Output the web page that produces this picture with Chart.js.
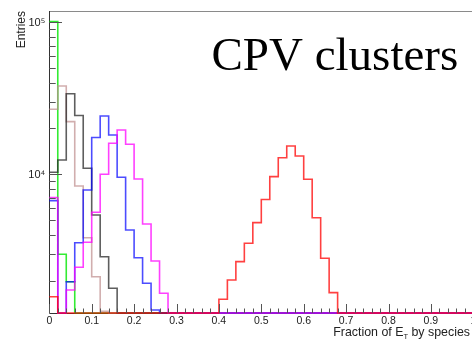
<!DOCTYPE html>
<html><head><meta charset="utf-8">
<script src="https://cdn.jsdelivr.net/npm/chart.js@4/dist/chart.umd.min.js"></script>
<style>
html,body{margin:0;padding:0;overflow:hidden;background:#fff;width:472px;height:347px;}
#wrap{position:absolute;left:0;top:0;width:490px;height:347px;}
</style></head><body>
<div id="wrap"><canvas id="c"></canvas></div>
<script>
// Bin lower edges (bin width 0.02)
const binLow = [
  0.00,0.02,0.04,0.06,0.08,0.10,0.12,0.14,0.16,0.18,
  0.20,0.22,0.24,0.26,0.28,0.30,0.32,0.34,0.36,0.38,
  0.40,0.42,0.44,0.46,0.48,0.50,0.52,0.54,0.56,0.58,
  0.60,0.62,0.64,0.66,0.68,0.70,0.72,0.74,0.76,0.78,
  0.80,0.82,0.84,0.86,0.88,0.90,0.92,0.94,0.96,0.98];

const green = [
  100500,2984,1970,0,0,0,0,0,0,0,
  0,0,0,0,0,0,0,0,0,0,
  0,0,0,0,0,0,0,0,0,0,
  0,0,0,0,0,0,0,0,0,0,
  0,0,0,0,0,0,0,0,0,0];
const rosy = [
  26720,38000,22150,8380,3834,2126,1260,0,0,0,
  0,0,0,0,0,0,0,0,0,0,
  0,0,0,0,0,0,0,0,0,0,
  0,0,0,0,0,0,0,0,0,0,
  0,0,0,0,0,0,0,0,0,0];
const black = [
  10300,12410,33780,24320,10950,5405,2877,1784,0,0,
  0,0,0,0,0,0,0,0,0,0,
  0,0,0,0,0,0,0,0,0,0,
  0,0,0,0,0,0,0,0,0,0,
  0,0,0,0,0,0,0,0,0,0];
const blue = [
  6710,0,1971,3555,7887,17440,24140,18110,9557,4309,
  2834,1924,1285,0,0,0,0,0,0,0,
  0,0,0,0,0,0,0,0,0,0,
  0,0,0,0,0,0,0,0,0,0,
  0,0,0,0,0,0,0,0,0,0];
const magenta = [
  7020,0,1739,2452,3576,5629,10000,15970,19540,15740,
  9314,4718,2696,1654,0,0,0,0,0,0,
  0,0,0,0,0,0,0,0,0,0,
  0,0,0,0,0,0,0,0,0,0,
  0,0,0,0,0,0,0,0,0,0];
const red = [
  1570,0,0,0,0,0,0,0,0,0,
  0,0,0,0,0,0,0,0,0,0,
  1511,2023,2668,3523,4811,6831,9644,12850,15340,13190,
  9272,5188,2809,1670,0,0,0,0,0,0,
  0,0,0,0,0,0,0,0,0,0];

const xTickValues = [0,0.1,0.2,0.3,0.4,0.5,0.6,0.7,0.8,0.9,1];
const xTickLabels = ['0','0.1','0.2','0.3','0.4','0.5','0.6','0.7','0.8','0.9','1'];
const xMinorTicks = [0.02,0.04,0.06,0.08,0.12,0.14,0.16,0.18,0.22,0.24,0.26,0.28,
  0.32,0.34,0.36,0.38,0.42,0.44,0.46,0.48,0.52,0.54,0.56,0.58,0.62,0.64,0.66,0.68,
  0.72,0.74,0.76,0.78,0.82,0.84,0.86,0.88,0.92,0.94,0.96,0.98];
const yTickValues = [10000,100000];
const yTickLabels = ['10\u2074','10\u2075'];
const yMinorTicks = [2000,3000,4000,5000,6000,7000,8000,9000,
  20000,30000,40000,50000,60000,70000,80000,90000];

const X_MIN = 0, X_MAX = 1;
const Y_MIN = 1228, Y_MAX = 118000;

function histPoints(values){
  const pts = values.map((v,i)=>({x: binLow[i], y: v>0 ? v : Y_MIN}));
  pts.push({x: X_MAX, y: pts[pts.length-1].y});
  return pts;
}
function ds(values, color, order){
  return {data: histPoints(values), borderColor: color, borderWidth: 1.6,
    stepped: true, pointRadius: 0, fill: false, clip: false, order: order};
}

const decor = {
  id: 'decor',
  beforeDatasetsDraw(chart){
    const {ctx, chartArea: a} = chart;
    ctx.save();
    ctx.lineWidth = 1;
    ctx.strokeStyle = '#8a8a8a';
    ctx.beginPath(); ctx.moveTo(a.left, Math.round(a.top)+0.5); ctx.lineTo(a.right, Math.round(a.top)+0.5); ctx.stroke();
    ctx.strokeStyle = '#333';
    ctx.beginPath();
    ctx.moveTo(Math.round(a.left)+0.5, a.top); ctx.lineTo(Math.round(a.left)+0.5, a.bottom);
    ctx.moveTo(a.left, Math.round(a.bottom)+0.5); ctx.lineTo(a.right, Math.round(a.bottom)+0.5);
    ctx.stroke();
    ctx.restore();
  },
  afterDatasetsDraw(chart){
    const {ctx, chartArea: a, scales: {x, y}} = chart;
    ctx.save();
    ctx.lineWidth = 1;
    ctx.strokeStyle = '#555';
    ctx.beginPath();
    yTickValues.forEach(v=>{const p=Math.round(y.getPixelForValue(v))+0.5; ctx.moveTo(a.left,p); ctx.lineTo(a.left+12.7,p);});
    yMinorTicks.forEach(v=>{const p=Math.round(y.getPixelForValue(v))+0.5; ctx.moveTo(a.left,p); ctx.lineTo(a.left+6.4,p);});
    xTickValues.forEach(v=>{const p=Math.round(x.getPixelForValue(v))+0.5; ctx.moveTo(p,a.bottom); ctx.lineTo(p,a.bottom-9);});
    xMinorTicks.forEach(v=>{const p=Math.round(x.getPixelForValue(v))+0.5; ctx.moveTo(p,a.bottom); ctx.lineTo(p,a.bottom-4.5);});
    ctx.stroke();

    // Title
    ctx.fillStyle = '#000';
    ctx.font = '47px "Liberation Serif", "Times New Roman", serif';
    ctx.textAlign = 'left'; ctx.textBaseline = 'alphabetic';
    ctx.fillText('CPV clusters', 211.5, 70);

    // Y title
    ctx.save();
    ctx.font = '12px "Liberation Sans", Arial, sans-serif';
    ctx.fillStyle = '#222';
    ctx.translate(25, a.top);
    ctx.rotate(-Math.PI/2);
    ctx.textAlign = 'right';
    ctx.fillText('Entries', 0, 0);
    ctx.restore();

    // X title with subscript
    ctx.fillStyle = '#222';
    const f1 = '12.4px "Liberation Sans", Arial, sans-serif';
    const f2 = '7.5px "Liberation Sans", Arial, sans-serif';
    const s1 = 'Fraction of E', s2 = 'T', s3 = ' by species';
    ctx.font = f1; const w1 = ctx.measureText(s1).width, w3 = ctx.measureText(s3).width;
    ctx.font = f2; const w2 = ctx.measureText(s2).width;
    let xs = 470 - (w1 + w2 + w3);
    const base = 336;
    ctx.textAlign = 'left';
    ctx.font = f1; ctx.fillText(s1, xs, base); xs += w1;
    ctx.font = f2; ctx.fillText(s2, xs, base + 2.5); xs += w2;
    ctx.font = f1; ctx.fillText(s3, xs, base);
    ctx.restore();
  }
};

new Chart(document.getElementById('c'), {
  type: 'line',
  data: {
    datasets: [
      ds(red, 'rgba(255,0,0,0.75)', 0),
      ds(magenta, 'rgba(255,0,255,0.75)', 1),
      ds(blue, 'rgba(0,0,255,0.7)', 2),
      ds(black, 'rgba(40,40,40,0.75)', 3),
      ds(rosy, 'rgba(190,140,140,0.7)', 4),
      ds(green, 'rgba(0,230,0,0.8)', 5)
    ]
  },
  options: {
    responsive: true, maintainAspectRatio: false, animation: false,
    devicePixelRatio: 1,
    layout: {padding: {left: 0, top: 11, right: 16.7, bottom: 0}},
    plugins: {legend: {display: false}, tooltip: {enabled: false}, title: {display: false}},
    scales: {
      x: {
        type: 'linear', min: X_MIN, max: X_MAX,
        grid: {display: false, drawTicks: false}, border: {display: false},
        afterBuildTicks: s => { s.ticks = xTickValues.map(v => ({value: v})); },
        afterFit: s => { s.height = 34; },
        ticks: {
          autoSkip: false, maxRotation: 0, padding: 2, color: '#222',
          font: {family: '"Liberation Sans", Arial, sans-serif', size: 10.5},
          callback: (v, i) => xTickLabels[i]
        }
      },
      y: {
        type: 'logarithmic', min: Y_MIN, max: Y_MAX,
        grid: {display: false, drawTicks: false}, border: {display: false},
        afterBuildTicks: s => { s.ticks = yTickValues.map(v => ({value: v})); },
        afterFit: s => { s.width = 49.3; },
        ticks: {
          autoSkip: false, padding: 4, color: '#222', labelOffset: 1,
          font: {family: '"Liberation Sans", Arial, sans-serif', size: 11},
          callback: (v, i) => yTickLabels[i]
        }
      }
    }
  },
  plugins: [decor]
});
</script>
</body></html>
